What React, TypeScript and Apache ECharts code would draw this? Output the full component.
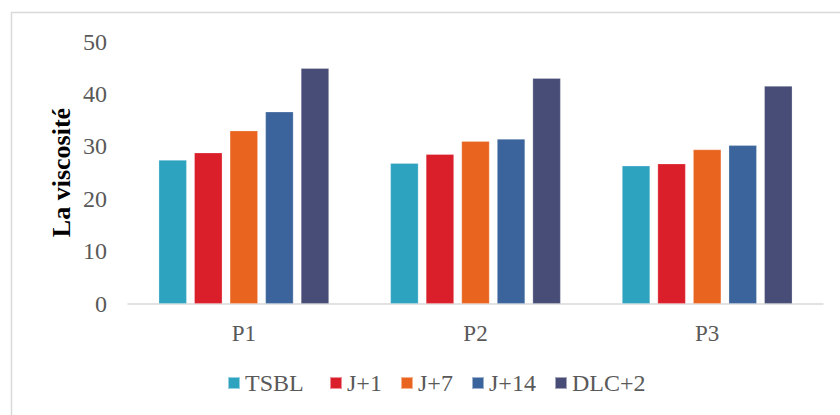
import React, { useEffect, useRef } from "react";
import * as echarts from "echarts";

const categories = ["P1", "P2", "P3"];
const seriesNames = ["TSBL", "J+1", "J+7", "J+14", "DLC+2"];
const tsbl = [27.4, 26.8, 26.3];
const j1 = [28.8, 28.5, 26.7];
const j7 = [33.0, 31.0, 29.4];
const j14 = [36.6, 31.4, 30.2];
const dlc2 = [44.9, 43.0, 41.5];
const yTicks = [0, 10, 20, 30, 40, 50];

const colors = ["#2ea3c0", "#db1f2a", "#e9641f", "#3a649b", "#474d77"];
const legendLeft = [227, 329, 400, 471, 554];
const serif = "Liberation Serif";

export default function App() {
  const ref = useRef<HTMLDivElement>(null);

  useEffect(() => {
    if (!ref.current) return;
    const chart = echarts.init(ref.current, undefined, { renderer: "svg" });
    const values = [tsbl, j1, j7, j14, dlc2];
    chart.setOption({
      animation: false,
      backgroundColor: "#ffffff",
      textStyle: { fontFamily: serif },
      grid: { left: 128, right: 17, top: 41.5, bottom: 111.3 },
      xAxis: {
        type: "category",
        data: categories,
        axisLine: { lineStyle: { color: "#d9d9d9", width: 1.5 } },
        axisTick: { show: false },
        axisLabel: { color: "#595959", fontSize: 23, fontFamily: serif, margin: 18 },
      },
      yAxis: {
        type: "value",
        min: yTicks[0],
        max: yTicks[yTicks.length - 1],
        interval: 10,
        axisLine: { show: false },
        axisTick: { show: false },
        splitLine: { show: false },
        axisLabel: { color: "#595959", fontSize: 24, fontFamily: serif, margin: 21 },
      },
      // one legend per series so each entry sits at its own position
      legend: seriesNames.map((name, i) => ({
        data: [name],
        left: legendLeft[i],
        top: 371,
        padding: 0,
        icon: "rect",
        itemWidth: 12,
        itemHeight: 12,
        textStyle: { color: "#595959", fontSize: 24, fontFamily: serif, lineHeight: 24 },
      })),
      graphic: [
        {
          type: "rect",
          shape: { x: 11.5, y: 12.5, width: 900, height: 500 },
          style: { fill: "none", stroke: "#d9d9d9", lineWidth: 1.5 },
          silent: true,
        },
        {
          type: "text",
          x: 61,
          y: 172.5,
          rotation: Math.PI / 2,
          style: {
            text: "La viscosité",
            fontFamily: serif,
            fontWeight: "bold",
            fontSize: 26,
            fill: "#000000",
            align: "center",
            verticalAlign: "middle",
          },
        },
      ],
      series: seriesNames.map((name, i) => ({
        name,
        type: "bar",
        data: values[i],
        barWidth: 28,
        barGap: "27%",
        itemStyle: { color: colors[i], borderColor: "rgba(255,255,255,0.5)", borderWidth: 0.5 },
      })),
    });
    return () => chart.dispose();
  }, []);

  return <div ref={ref} style={{ width: 840, height: 415, position: "absolute", left: 0, top: 0 }} />;
}
